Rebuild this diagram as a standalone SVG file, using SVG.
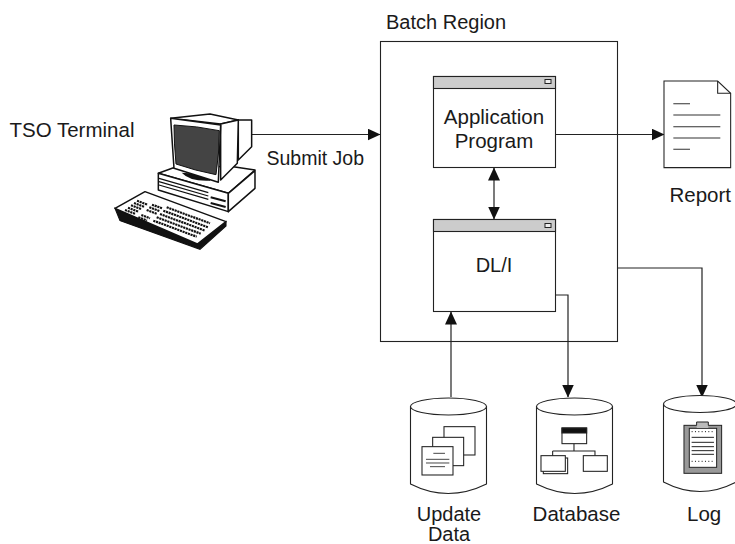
<svg xmlns="http://www.w3.org/2000/svg" width="735" height="544" viewBox="0 0 735 544">
<style>
text{font-family:"Liberation Sans",Arial,sans-serif;font-size:20px;fill:#1a1a1a}
.m{text-anchor:middle}
.b{fill:#fff;stroke:#222;stroke-width:1.1}
.l{fill:none;stroke:#222;stroke-width:1.2}
.t{fill:#fff;stroke:#111;stroke-width:4.5;stroke-linejoin:round}
.k{fill:none;stroke:#111;stroke-width:6.5;stroke-dasharray:6.500 2}
.h{fill:none;stroke:#111;stroke-width:3.500}
.g{fill:#ccc;stroke:#222;stroke-width:1.1}
</style>
<defs>
<marker id="a" viewBox="0 0 13 12" refX="12.5" refY="6" markerWidth="13" markerHeight="12" markerUnits="userSpaceOnUse" orient="auto-start-reverse"><path d="M0 0L13 6L0 12Z" fill="#111"/></marker>
</defs>
<g id="batch-region"><rect x="380.500" y="41.500" width="237" height="300" fill="none" stroke="#222" stroke-width="1.1"/><text x="386" y="29">Batch Region</text></g>
<g id="connectors">
<path class="l" d="M252 134.500H380" marker-end="url(#a)"/>
<path class="l" d="M556 134.500H664" marker-end="url(#a)"/>
<path class="l" d="M494 168V219" marker-start="url(#a)" marker-end="url(#a)"/>
<path class="l" d="M451 397V312" marker-end="url(#a)"/>
<path class="l" d="M556 295H568V397" marker-end="url(#a)"/>
<path class="l" d="M618 268H702V397" marker-end="url(#a)"/>
</g>
<g id="application-program"><rect class="b" x="433.500" y="76.500" width="122" height="91"/><rect class="g" x="433.500" y="76.500" width="122" height="12"/><rect x="545" y="79.500" width="6" height="4" fill="#eee" stroke="#222"/><text class="m" x="494" y="124" style="font-size:20.500px">Application</text><text class="m" x="494" y="148" style="font-size:20.500px">Program</text></g>
<g id="dli"><rect class="b" x="433.500" y="219.500" width="122" height="92"/><rect class="g" x="433.500" y="219.500" width="122" height="12"/><rect x="545" y="223.500" width="6" height="4" fill="#eee" stroke="#222"/><text class="m" x="494" y="272">DL/I</text></g>
<g id="tso-terminal"><text x="9.500" y="136.500" style="font-size:20.500px">TSO Terminal</text>
<g transform="translate(100 100) scale(.3333)">
<path d="M292 432L378 365L378 378L300 448L60 362L45 325Z" fill="#111" stroke="#111" stroke-width="3.400"/>
<path class="t" d="M45 325L135 275L378 365L292 432Z"/>
<path class="k" d="M75 330l32 12M84 323l32 12M93 316l32 12M102 309l32 12M111 302l32 12"/>
<path class="k" d="M140 330l30 11M148 322l30 11M156 314l30 11"/>
<path class="k" d="M115 352l26 10M124 345l26 10"/>
<path class="k" d="M200 322l130 48M190 332l135 50M180 342l135 50M170 352l132 49M160 362l130 48"/>
<path class="t" d="M175 220L235 198L400 200L465 210L385 280Z"/>
<path class="t" d="M175 220L385 280V335L175 270Z"/>
<path class="t" d="M385 280L465 212V265L385 335Z" stroke-width="6"/>
<path class="h" d="M177 235L325 278M177 245L325 288M177 255L325 298"/>
<path d="M332 292L377 304M332 309L377 321" stroke="#111" stroke-width="6"/>
<path d="M245 218Q270 245 330 242L340 225Z" fill="#111"/>
<path class="t" d="M415 60H455V140L415 180Z"/>
<path class="t" d="M212 55L330 42L415 60L362 72Z"/>
<path class="t" d="M362 72L415 60L412 190L362 240Z"/>
<path class="t" d="M212 55L362 75L355 247L222 205Z"/>
<path d="M222 75Q290 78 358 92Q358 160 348 224Q285 212 228 192Q222 130 222 75Z" fill="#444" stroke="#111" stroke-width="3"/>
</g></g>
<text x="266.500" y="165" style="font-size:19.500px">Submit Job</text>
<g id="report" transform="translate(640 70) scale(.3333)">
<path d="M72 33H233L272 70V293H72Z" fill="#fff" stroke="#222" stroke-width="3.200"/>
<path d="M233 33V70H272" fill="none" stroke="#222" stroke-width="3.200"/>
<path d="M100 101H150M100 135H241M100 170H241M100 204H241M100 238H150" stroke="#333" stroke-width="3.200"/>
</g>
<text x="669.500" y="202" style="font-size:20.500px">Report</text>
<g id="update-data">
<path class="b" d="M410.500 406V484Q448 503 486.500 484V406"/>
<ellipse class="b" cx="448.500" cy="406.500" rx="38" ry="8.500"/>
<g transform="translate(400 390) scale(.3333)" fill="#fff" stroke="#222" stroke-width="3.200">
<rect x="132" y="110" width="93" height="85"/><rect x="98" y="142" width="93" height="85"/><rect x="66" y="170" width="93" height="85"/>
<path d="M100 190H135M78 208H148M78 219H148M90 230H135" fill="none" stroke-width="2.500"/>
</g></g>
<text class="m" x="449" y="521">Update</text><text class="m" x="449" y="541">Data</text>
<g id="database">
<path class="b" d="M536.500 406V484Q575 503 612.500 484V406"/>
<ellipse class="b" cx="574.500" cy="406.500" rx="38" ry="8.500"/>
<g transform="translate(400 390) scale(.3333)" fill="#fff" stroke="#222" stroke-width="3.200">
<path d="M522 160V183M458 183H585V198M458 183V198" fill="none"/>
<rect x="486" y="114" width="74" height="47"/><rect x="486" y="114" width="74" height="15" fill="#111"/>
<rect x="430" y="204" width="73" height="47"/><rect x="423" y="197" width="73" height="47"/><rect x="550" y="197" width="72" height="47"/>
</g></g>
<text class="m" x="576.500" y="521" style="font-size:20.500px">Database</text>
<g id="log">
<path class="b" d="M663.500 404V482Q700 501 736 482V404"/>
<ellipse class="b" cx="700" cy="404" rx="36.500" ry="8.500"/>
<g transform="translate(400 390) scale(.3333)">
<rect x="852" y="106" width="113" height="144" fill="#999" stroke="#222" stroke-width="3"/>
<rect x="868" y="115" width="82" height="117" fill="#fff" stroke="#222" stroke-width="3"/>
<path d="M890 108V96H925V108" fill="#bbb" stroke="#222" stroke-width="3"/><rect x="890" y="106" width="35" height="8" fill="#bbb"/>
<path d="M875 125H940M875 214H940" stroke="#111" stroke-width="3" stroke-dasharray="3 7"/>
<path d="M875 142H942M875 157H942M875 170H942M875 182H942M875 193H942" stroke="#222" stroke-width="3"/>
</g></g>
<text x="687" y="521" style="font-size:20.500px">Log</text>
</svg>
